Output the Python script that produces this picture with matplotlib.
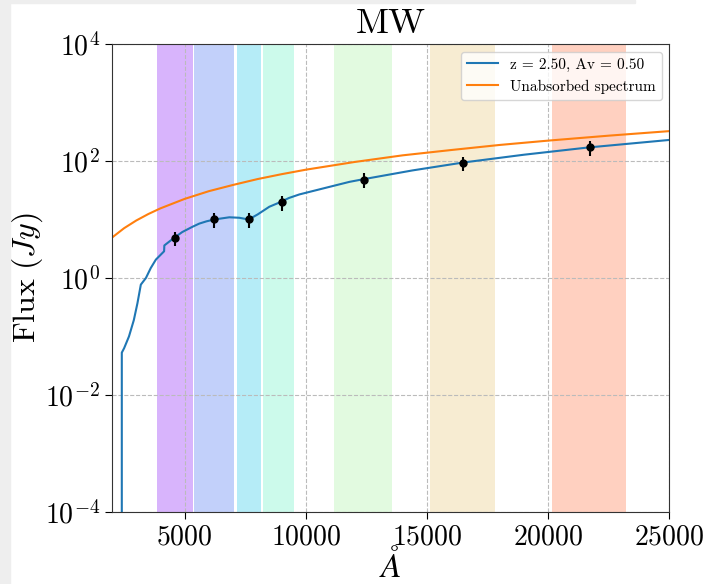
# SED plot: MW extinction at z = 2.5

import numpy as np
import matplotlib
matplotlib.use("Agg")
import matplotlib.pyplot as plt
from matplotlib.patches import Rectangle

plt.rcParams['font.family'] = 'serif'
plt.rcParams['font.serif'] = ['cmr10', 'DejaVu Serif']
plt.rcParams['mathtext.fontset'] = 'cm'
plt.rcParams['axes.formatter.use_mathtext'] = True
plt.rcParams['axes.unicode_minus'] = False

# filter bands (Angstrom) and colours
band_lo = [3840, 5365, 7140, 8245, 11180, 15100, 20145]
band_hi = [5330, 7045, 8150, 9525, 13560, 17820, 23200]
band_col = ['#d8b4fc', '#c2d0fa', '#b5ecf7', '#ccfaeb', '#e2fae0', '#f7ecd2', '#ffd0c0']

# photometry
phot_wl = [4587, 6220, 7641, 8999, 12399, 16468, 21706]
phot_flux = [4.85, 10.0, 10.0, 19.6, 48.0, 92.5, 170.0]
phot_err = [1.35, 2.8, 2.8, 5.5, 13.4, 25.9, 47.6]

# absorbed model (blue)
model_wl = [2405, 2405, 2500, 2700, 2900, 3050, 3190, 3400, 3600, 3810, 4150,
            4160, 4560, 4900, 5320, 5600, 5900, 6220, 6840, 7250, 7640, 8010,
            8490, 8880, 9300, 9730, 10830, 11800, 12350, 14400, 16480, 19000,
            21640, 25000]
model_flux = [1e-6, 0.053, 0.063, 0.10, 0.19, 0.37, 0.77, 1.0, 1.48, 2.06, 2.86,
              3.6, 4.85, 6.1, 7.5, 8.5, 9.3, 10.0, 10.9, 10.7, 10.0, 12.2,
              16.5, 19.3, 23.3, 26.8, 34.9, 44.0, 48.6, 69.0, 94.0, 128.0,
              170.0, 229.0]

# unabsorbed spectrum (orange)
unabs_wl = [2000, 2500, 3000, 3500, 4000, 5000, 6000, 7000, 8000, 9000, 10000,
            12000, 14000, 16000, 18000, 20000, 22500, 25000]
unabs_flux = [4.9, 7.1, 9.6, 12.4, 15.5, 22.5, 30.5, 39, 49, 59.5, 71,
              96, 125, 154, 188, 223, 271, 324]

fig = plt.figure(figsize=(7.03, 5.84), dpi=100)
fig.patches.append(Rectangle((0, 0), 10 / 703, 1, transform=fig.transFigure,
                             color='#eeeeee', zorder=0))
fig.patches.append(Rectangle((0, 1 - 3 / 584), 635 / 703, 3 / 584,
                             transform=fig.transFigure, color='#eeeeee', zorder=0))

ax = fig.add_axes([0.1593, 0.1233, 0.793, 0.8014])

for lo, hi, c in zip(band_lo, band_hi, band_col):
    ax.axvspan(lo, hi, color=c, lw=0)

ax.plot(model_wl, model_flux, color='#1f77b4', lw=1.5, label='z = 2.50, Av = 0.50')
ax.plot(unabs_wl, unabs_flux, color='#ff7f0e', lw=1.5, label='Unabsorbed spectrum')
ax.errorbar(phot_wl, phot_flux, yerr=phot_err, fmt='o', color='black',
            ms=5, elinewidth=1.5, capsize=0, zorder=5)

ax.set_yscale('log')
ax.set_xlim(2000, 25000)
ax.set_ylim(1e-4, 1e4)
ax.set_yticks([1e-4, 1e-2, 1e0, 1e2, 1e4])
ax.yaxis.set_minor_locator(matplotlib.ticker.NullLocator())
ax.set_xticks([5000, 10000, 15000, 20000, 25000])
ax.tick_params(labelsize=20, length=5)
ax.grid(True, ls='--', color='#bbbbbb', lw=0.8)

ax.set_title('MW', fontsize=26, pad=8)
ax.set_xlabel(r'$\AA$', fontsize=24, labelpad=-2)
ax.set_ylabel(r'$\mathrm{Flux}\ (Jy)$', fontsize=23, labelpad=0)
ax.legend(loc='upper right', fontsize=11)

for s in ax.spines.values():
    s.set_color('#333333')

fig.savefig('out.png', dpi=100)
